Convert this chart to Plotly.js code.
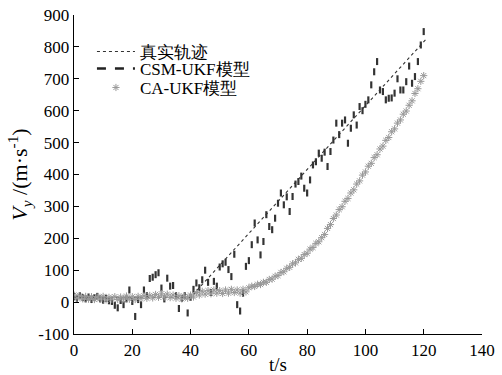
<!DOCTYPE html>
<html>
<head>
<meta charset="utf-8">
<script src="https://cdn.plot.ly/plotly-3.0.1.min.js"></script>
<style>html,body{margin:0;padding:0;background:#fff;}#chart{width:502px;height:375px;}</style>
</head>
<body>
<div id="chart"></div>
<script>
// time stamps (s)
const tSamples = [0,1,2,3,4,5,6,7,8,9,10,11,12,13,14,15,16,17,18,19,20,21,22,23,24,25,26,27,28,29,30,
31,32,33,34,35,36,37,38,39,40,41,42,43,44,45,46,47,48,49,50,51,52,53,54,55,56,57,58,59,60,
61,62,63,64,65,66,67,68,69,70,71,72,73,74,75,76,77,78,79,80,81,82,83,84,85,86,87,88,89,90,
91,92,93,94,95,96,97,98,99,100,101,102,103,104,105,106,107,108,109,110,111,112,113,114,115,116,117,118,119,120];

// true trajectory breakpoints
const tTrue = [0, 40, 121];
const vTrue = [15, 15, 826];

// CSM-UKF estimates
const vCSM = [18,12,20,14,10,16,8,14,18,10,6,12,4,2,-10,-18,5,-8,10,38,
2,-45,8,-8,38,20,74,78,86,92,44,10,75,50,52,20,-20,12,20,-34,
15,40,60,45,70,100,62,30,65,50,110,120,125,102,80,150,-8,-28,28,112,
130,180,248,195,148,190,274,237,227,263,310,342,305,330,284,331,370,378,395,357,
342,383,430,440,467,451,470,425,472,508,561,525,561,571,498,545,587,555,613,600,
620,634,681,722,754,665,660,634,639,640,655,700,665,665,691,740,686,707,754,806,848];

// CA-UKF estimates
const vCA = [22,12,20,10,18,9,17,8,16,10,18,7,15,9,17,8,16,10,19,9,
17,8,18,11,20,12,21,13,24,15,26,16,25,14,22,12,20,10,18,12,
22,16,30,22,34,25,36,26,38,28,36,27,38,28,40,30,38,28,40,32,
45,50,49,56,55,62,62,71,72,81,83,93,95,106,109,120,123,134,137,149,
153,166,171,184,189,202,212,231,243,262,273,290,299,316,325,342,352,370,380,398,
408,426,435,453,462,480,489,507,516,534,543,561,571,589,599,617,631,654,669,692,710];

const xTicks = [0,20,40,60,80,100,120,140];
const yTicks = [-100,0,100,200,300,400,500,600,700,800,900];

const FONT = 'Liberation Serif';

const traces = [
  {
    x: tTrue, y: vTrue, name: '真实轨迹', mode: 'lines', legend: 'legend',
    line: {color: '#333', width: 1.1, dash: 'dot'}
  },
  {
    x: [null], y: [null], name: 'CSM-UKF模型', mode: 'lines', legend: 'legend2',
    line: {color: '#222', width: 2.5, dash: 'dash'}
  },
  {
    x: tSamples, y: vCSM, name: 'CSM-UKF模型', mode: 'markers', showlegend: false,
    marker: {symbol: 'line-ns-open', size: 5, color: '#333', line: {color: '#333', width: 2.2}}
  },
  {
    x: tSamples, y: vCA, name: 'CA-UKF模型', mode: 'markers', legend: 'legend3',
    marker: {symbol: 'asterisk-open', size: 6, color: '#999', line: {color: '#999', width: 1}}
  }
];

function leg(yc) {
  return {
    x: 0.044, y: yc, xanchor: 'left', yanchor: 'middle',
    bgcolor: 'rgba(0,0,0,0)', borderwidth: 0,
    font: {family: FONT, size: 17, color: '#000'},
    itemwidth: 38
  };
}
const yPaper = px => 1 - (px - 15) / 319.3;

const layout = {
  width: 502, height: 375,
  margin: {l: 74, r: 20, t: 15, b: 41},
  paper_bgcolor: '#fff', plot_bgcolor: '#fff',
  font: {family: FONT, size: 17, color: '#000'},
  showlegend: true,
  legend: leg(yPaper(52)),
  legend2: leg(yPaper(69)),
  legend3: leg(yPaper(88)),
  xaxis: {
    range: [0, 140], tickvals: xTicks, ticktext: xTicks.map(String),
    ticks: 'inside', ticklen: 5, tickcolor: '#000', tickwidth: 1,
    showline: true, linecolor: '#000', linewidth: 1.3, mirror: false,
    showgrid: false, zeroline: false,
    tickfont: {family: FONT, size: 17, color: '#000'},
    title: {text: 't/s', font: {family: FONT, size: 19}, standoff: 2}
  },
  yaxis: {
    range: [-100, 900], tickvals: yTicks, ticktext: yTicks.map(String),
    ticks: 'inside', ticklen: 5, tickcolor: '#000', tickwidth: 1,
    showline: true, linecolor: '#000', linewidth: 1.3, mirror: false,
    showgrid: false, zeroline: false,
    tickfont: {family: FONT, size: 17, color: '#000'},
    title: {text: '<i>V</i><sub><i>y</i></sub> /(m·s<sup>-1</sup>)', font: {family: FONT, size: 22}, standoff: 4}
  }
};

Plotly.newPlot('chart', traces, layout, {displayModeBar: false, staticPlot: true});
</script>
</body>
</html>
